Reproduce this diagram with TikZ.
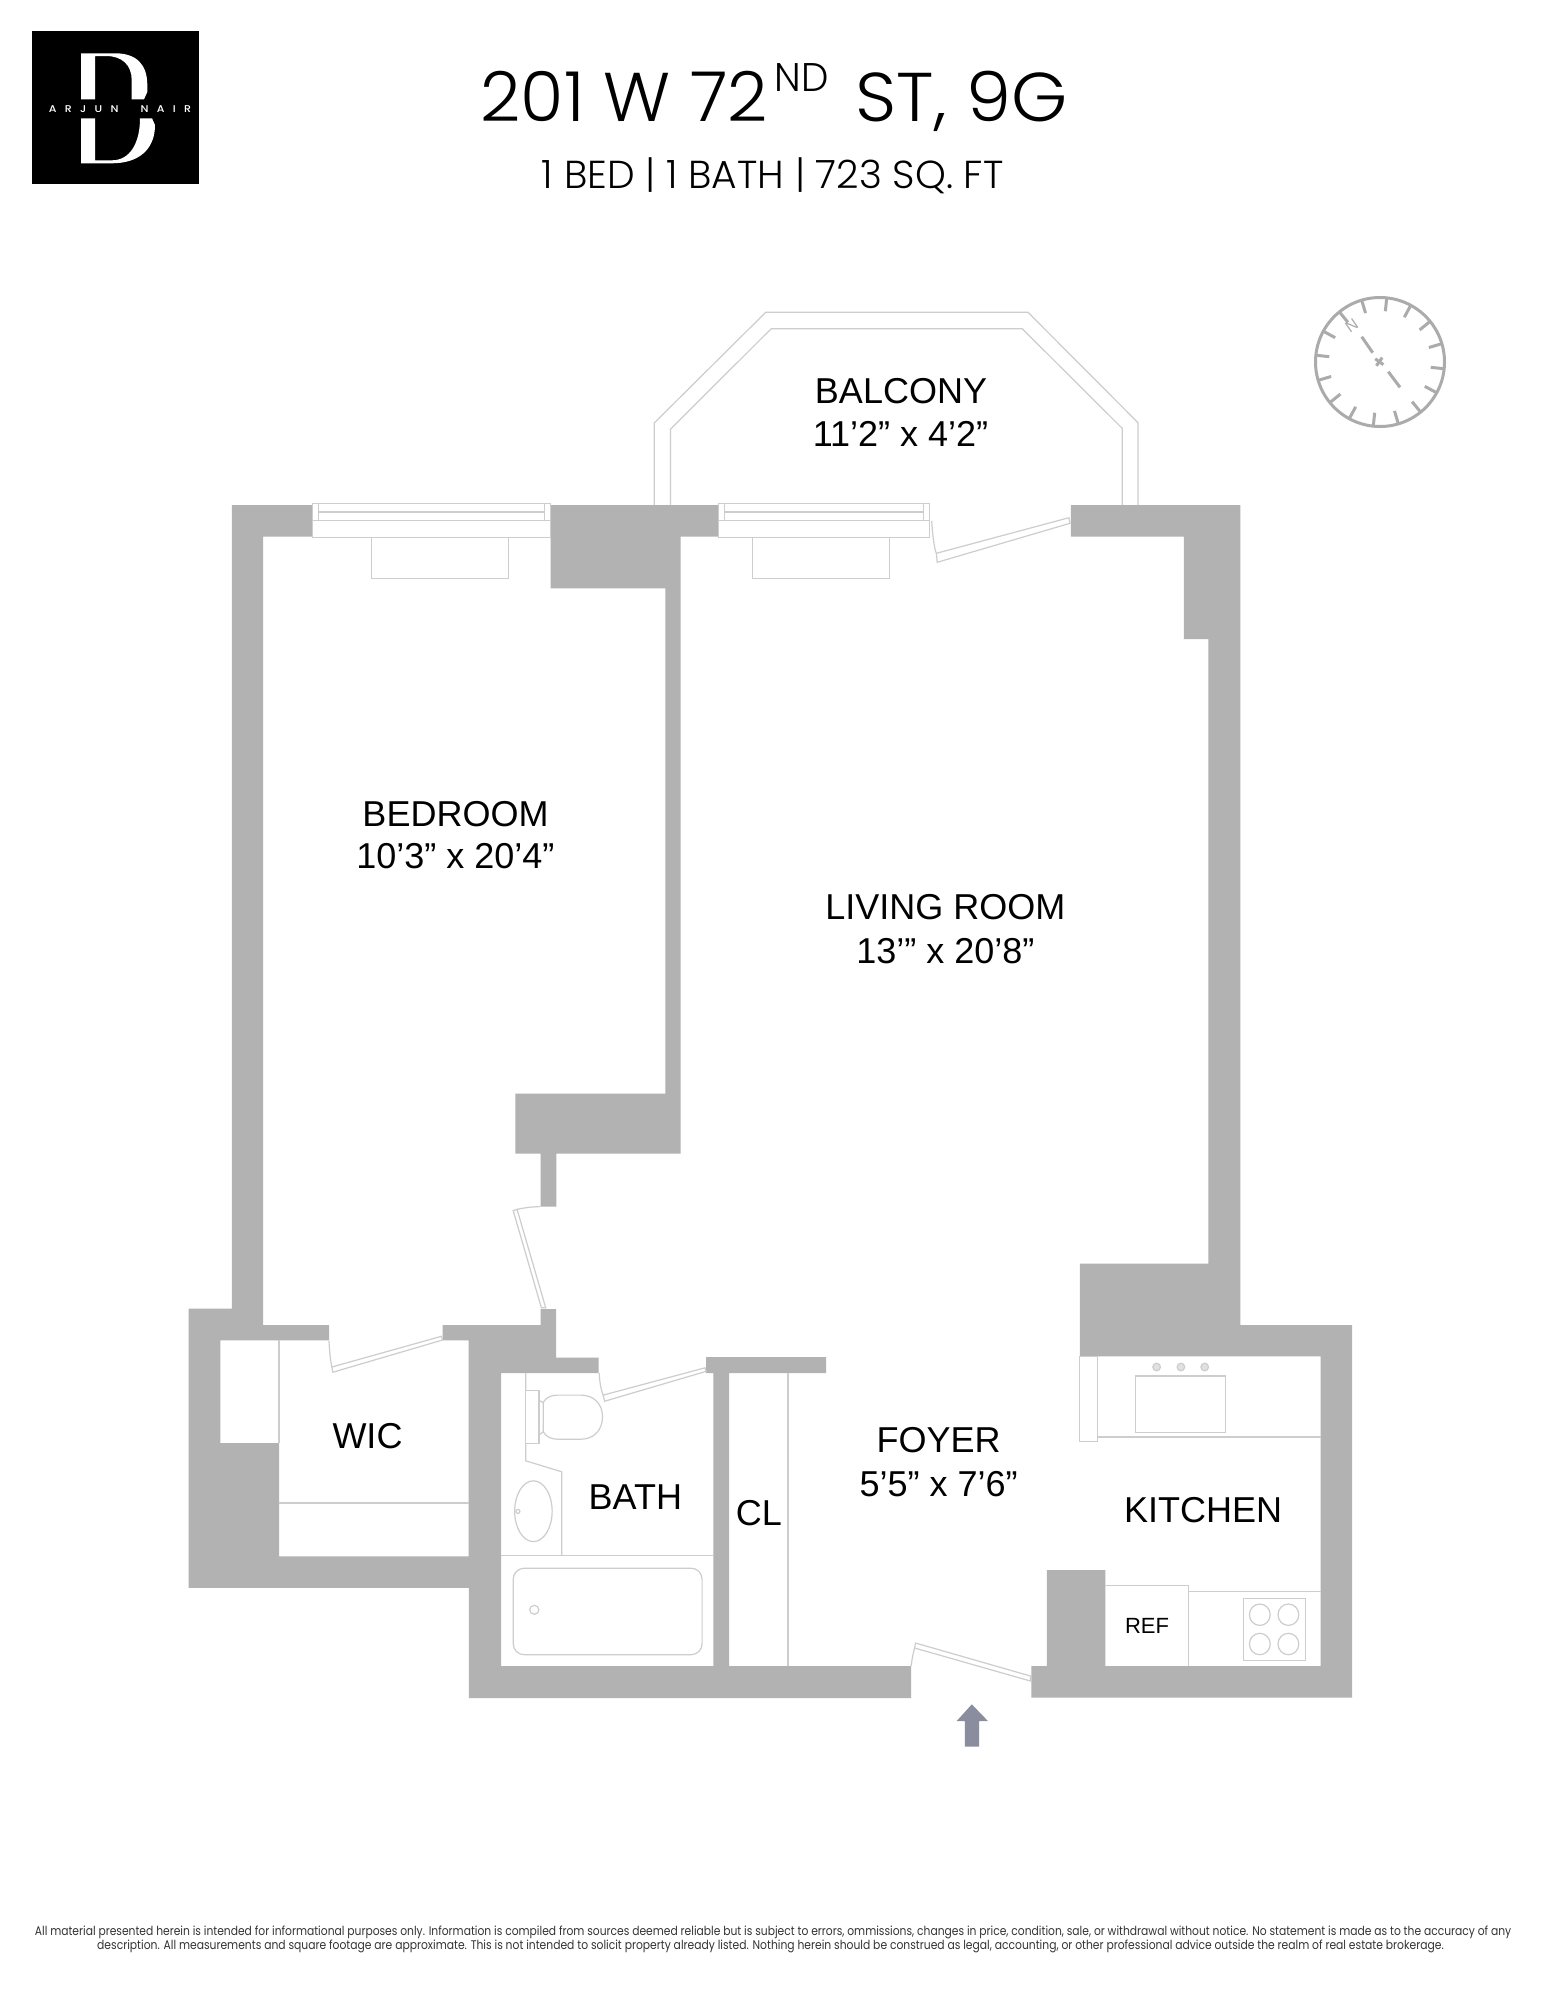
\documentclass[tikz,border=0pt]{standalone}
\usepackage{graphicx}
\usepackage{fontspec}
\setmainfont{Liberation Sans}
\newfontfamily\headfont{Poppins Light}
\newfontfamily\logofont[LetterSpace=75]{Poppins Medium}
\newfontfamily\notefont{Poppins}
\definecolor{wallgray}{HTML}{B2B2B2}
\definecolor{fixgray}{HTML}{CDCDCD}
\definecolor{arrowgray}{HTML}{8A8D9E}
\definecolor{compgray}{HTML}{ABABAB}
\tikzset{
  wall/.style={fill=wallgray,draw=none},
  fixture/.style={draw=fixgray,line width=1.2pt,line join=miter},
  leaf/.style={draw=fixgray,line width=1.2pt,fill=white},
  room/.style={inner sep=0pt,anchor=base,font=\fontsize{36pt}{36pt}\selectfont,text=black},
  small/.style={inner sep=0pt,anchor=base,font=\fontsize{22pt}{24pt}\selectfont,text=black},
  head/.style={inner sep=0pt,anchor=base west,text=black},
  note/.style={inner sep=0pt,anchor=base west,text=black!80},
  compline/.style={draw=compgray,line width=3pt},
}
\begin{document}
\begin{tikzpicture}[x=1pt,y=-1pt]
\useasboundingbox (0,0) rectangle (1545,2000);
\fill[white] (0,0) rectangle (1545,2000);

% logo
\fill[black] (32.3,30.5) rectangle (198.7,184);
\fill[white] (81,53.3) -- (115,53.3) .. controls (137,53.3) and (147.3,65) .. (147.3,85) -- (147.3,92) -- (144,99.3) -- (131.7,99.3) -- (131.7,80) .. controls (131.7,65) and (122,56) .. (106,56) -- (95,56) -- (95,99.3) -- (81,99.3) -- cycle;
\fill[white] (81,118.3) -- (95,118.3) -- (95,160.3) -- (112,160.3) .. controls (130,160.3) and (140,143) .. (140,118.3) -- (152,118.3) -- (155,125) .. controls (155,150) and (138,163.3) .. (112,163.3) -- (81,163.3) -- cycle;
\node[inner sep=0pt,anchor=base,text=white] (logotext) at (120,112.7) {\resizebox{142pt}{\height}{\logofont\fontsize{9.8pt}{10pt}\selectfont ARJUN~~NAIR}};

% heading
\node[head] (t1) at (480.5,121) {\resizebox{287pt}{\height}{\headfont\fontsize{69pt}{70pt}\selectfont 201 W 72}};
\node[head] (t2) at (774.5,91) {\resizebox{54pt}{\height}{\headfont\fontsize{40pt}{42pt}\selectfont ND}};
\node[head] (t3) at (855.5,121) {\resizebox{212pt}{\height}{\headfont\fontsize{69pt}{70pt}\selectfont ST, 9G}};
\node[head] (t4) at (541.7,188.3) {\resizebox{461.6pt}{\height}{\headfont\fontsize{39pt}{40pt}\selectfont 1 BED | 1 BATH | 723 SQ. FT}};

% balcony
\draw[fixture] (654.2,505) -- (654.2,423) -- (765.7,312.3) -- (1028,312.3) -- (1138,422.7) -- (1138,505);
\draw[fixture] (670.4,505) -- (670.4,429.3) -- (771.2,328.7) -- (1022.2,328.7) -- (1122.2,428.3) -- (1122.2,505);

% walls
\path[wall] (312.5,505) -- (231.8,505) -- (231.8,1308.6) -- (188.6,1308.6) -- (188.6,1587.8) -- (468.9,1587.8) -- (468.9,1698) -- (911.1,1698) -- (911.1,1666) -- (729,1666) -- (729,1373) -- (826.1,1373) -- (826.1,1357) -- (706,1357) -- (706,1373) -- (713.4,1373) -- (713.4,1666) -- (501,1666) -- (501,1373) -- (598.6,1373) -- (598.6,1357.6) -- (556,1357.6) -- (556,1309) -- (540.7,1309) -- (540.7,1325) -- (442.5,1325) -- (442.5,1340.4) -- (468.6,1340.4) -- (468.6,1556.3) -- (279,1556.3) -- (279,1443) -- (220.4,1443) -- (220.4,1340.4) -- (329,1340.4) -- (329,1325) -- (263.2,1325) -- (263.2,536.7) -- (312.5,536.7) -- cycle;
\path[wall] (550.5,505) -- (718.3,505) -- (718.3,536.7) -- (680.7,536.7) -- (680.7,1153.5) -- (556.4,1153.5) -- (556.4,1206.5) -- (540.7,1206.5) -- (540.7,1153.5) -- (515.4,1153.5) -- (515.4,1093.5) -- (665.3,1093.5) -- (665.3,588.3) -- (550.5,588.3) -- cycle;
\path[wall] (1070.8,505) -- (1240.4,505) -- (1240.4,1325) -- (1352.1,1325) -- (1352.1,1697.7) -- (1031.3,1697.7) -- (1031.3,1666) -- (1046.9,1666) -- (1046.9,1570) -- (1105.4,1570) -- (1105.4,1666) -- (1320.5,1666) -- (1320.5,1356.3) -- (1079.8,1356.3) -- (1079.8,1263.7) -- (1208.4,1263.7) -- (1208.4,639) -- (1183.9,639) -- (1183.9,536.7) -- (1070.8,536.7) -- cycle;

% windows
\draw[fixture] (312.5,503.5) rectangle (550.5,537.3);
\draw[fixture] (312.5,520.5) -- (550.5,520.5);
\draw[fixture] (318.7,503.5) -- (318.7,520.5) (544.3,503.5) -- (544.3,520.5) (318.7,512) -- (544.3,512);
\draw[fixture] (371.7,537.3) rectangle (508.7,578.7);
\draw[fixture] (718.3,503.5) rectangle (929.7,537.3);
\draw[fixture] (718.3,520.5) -- (929.7,520.5);
\draw[fixture] (724.6,503.5) -- (724.6,520.5) (923.4,503.5) -- (923.4,520.5) (724.6,512) -- (923.4,512);
\draw[fixture] (752.6,537.3) rectangle (889.4,578.7);

% doors
\draw[leaf] (1068.9,517.7) -- (1070,523.3) -- (937.2,562.3) -- (936.4,553.3) -- cycle;
\draw[fixture] (931.7,521) .. controls (932.5,535) and (934.5,550) .. (936.4,553.3);
\draw[leaf] (513.2,1210.6) -- (517.1,1209.4) -- (545.7,1307.8) -- (541.4,1307.8) -- cycle;
\draw[fixture] (517.1,1209.4) .. controls (525,1207.5) and (533,1206.8) .. (540.7,1206.5);
\draw[leaf] (441.4,1336.3) -- (442.5,1340) -- (332.9,1372.2) -- (331.8,1367) -- cycle;
\draw[fixture] (329,1341) .. controls (329.5,1352) and (330.5,1360) .. (331.8,1367);
\draw[leaf] (705,1367.8) -- (706,1371.4) -- (604.6,1401.2) -- (603.2,1395.1) -- cycle;
\draw[fixture] (599.3,1373) .. controls (599.5,1382) and (601,1390) .. (603.2,1395.1);
\draw[leaf] (915.5,1643) -- (1030.4,1676) -- (1030.4,1681) -- (914.6,1648) -- cycle;
\draw[fixture] (911.1,1666) .. controls (911.8,1660) and (913,1654) .. (914.6,1648);

% wic
\draw[fixture] (279,1340.4) -- (279,1443);
\draw[fixture] (279,1502.9) -- (468.6,1502.9);

% bath
\draw[fixture] (525.7,1373) -- (525.7,1460.8) -- (561.8,1471.8) -- (561.8,1555.5);
\draw[fixture] (501,1555.5) -- (713.2,1555.5);
\draw[fixture,fill=white] (525.7,1390.6) rectangle (539,1443.7);
\draw[fixture] (538.9,1400.4) -- (543.2,1402.4) (538.9,1435) -- (543.2,1431.8);
\draw[fixture] (543.2,1402.4) .. controls (546,1397) and (552,1395.1) .. (557.5,1395.1) -- (580.7,1395.1) .. controls (594,1395.1) and (602.5,1404) .. (602.5,1416.7) .. controls (602.5,1430) and (594,1439.2) .. (580.7,1439.2) -- (557.5,1439.2) .. controls (552,1439.2) and (546,1437) .. (543.2,1431.8) -- cycle;
\draw[fixture] (533.4,1511.2) ellipse [x radius=18.75,y radius=30.4];
\draw[fixture] (517.9,1511.4) circle [radius=2];
\draw[fixture,rounded corners=11pt] (513.2,1568.2) rectangle (702.1,1654.7);
\draw[fixture] (534.3,1609.8) ellipse [x radius=4.6,y radius=4.5];

% closet
\draw[fixture] (788,1373) -- (788,1666);

% kitchen
\draw[fixture] (1079.8,1356.3) rectangle (1097.2,1441.3);
\draw[fixture] (1097.2,1437) -- (1320.5,1437);
\draw[fixture] (1135.8,1376) rectangle (1225.5,1432.3);
\foreach \fx in {1156.6,1180.9,1204.7}{
  \draw[fixture,fill=fixgray!60] (\fx,1367) circle [radius=3.8];
}
\draw[fixture] (1105.4,1585.7) -- (1188.2,1585.7) -- (1188.2,1666);
\draw[fixture] (1188.2,1591.3) -- (1320.5,1591.3);
\draw[fixture] (1243.3,1598.3) rectangle (1305.3,1660.7);
\foreach \bx in {1259.8,1288.4}{\foreach \by in {1614.7,1644}{
  \draw[fixture] (\bx,\by) ellipse [x radius=10.4,y radius=10.7];
}}

% entry arrow
\fill[arrowgray] (971.8,1704.3) -- (987.9,1721) -- (979.2,1721) -- (979.2,1746.7) -- (964.9,1746.7) -- (964.9,1721) -- (956.7,1721) -- cycle;

% compass
\draw[compline] (1380,362) circle [radius=64.5];
\foreach \a in {0,...,15}{
  \draw[compline] ({1380+64*sin(-6+22.5*\a)},{362+64*cos(-6+22.5*\a)}) -- ({1380+51*sin(-6+22.5*\a)},{362+51*cos(-6+22.5*\a)});
}
\draw[compline] (1361.7,336.7) -- (1372.7,352.7);
\draw[compline] (1388.3,371.7) -- (1400,387.3);
\draw[compline] (1375.2,358.8) -- (1383.4,364.6);
\draw[compline] (1382.2,357.6) -- (1376.4,365.8);
\node[inner sep=0pt,rotate=35,text=compgray,font=\fontsize{16pt}{16pt}\selectfont] (north) at (1351.7,326) {N};

% labels
\node[room] (balc1) at (901,403) {BALCONY};
\node[room] (balc2) at (900.5,446.3) {11’2” x 4’2”};
\node[room] (bed1) at (455.5,826) {BEDROOM};
\node[room] (bed2) at (455.5,868) {10’3” x 20’4”};
\node[room] (liv1) at (945.4,919.5) {LIVING ROOM};
\node[room] (liv2) at (945.4,963) {13’” x 20’8”};
\node[room] (foy1) at (938.7,1452.3) {FOYER};
\node[room] (foy2) at (938.7,1496) {5’5” x 7’6”};
\node[room] (kit) at (1203,1522.7) {KITCHEN};
\node[room] (cl) at (759,1525) {CL};
\node[small] (ref) at (1147,1633.3) {REF};
\node[room] (wic) at (367.5,1448.6) {WIC};
\node[room] (bath) at (635.4,1509.4) {BATH};

% footer
\node[note] (f1) at (34.7,1935) {\resizebox{1476.3pt}{\height}{\notefont\fontsize{12.5pt}{14pt}\selectfont All material presented herein is intended for informational purposes only. Information is compiled from sources deemed reliable but is subject to errors, ommissions, changes in price, condition, sale, or withdrawal without notice. No statement is made as to the accuracy of any}};
\node[note] (f2) at (97,1949) {\resizebox{1346.5pt}{\height}{\notefont\fontsize{12.5pt}{14pt}\selectfont description. All measurements and square footage are approximate. This is not intended to solicit property already listed. Nothing herein should be construed as legal, accounting, or other professional advice outside the realm of real estate brokerage.}};
\end{tikzpicture}
\end{document}
